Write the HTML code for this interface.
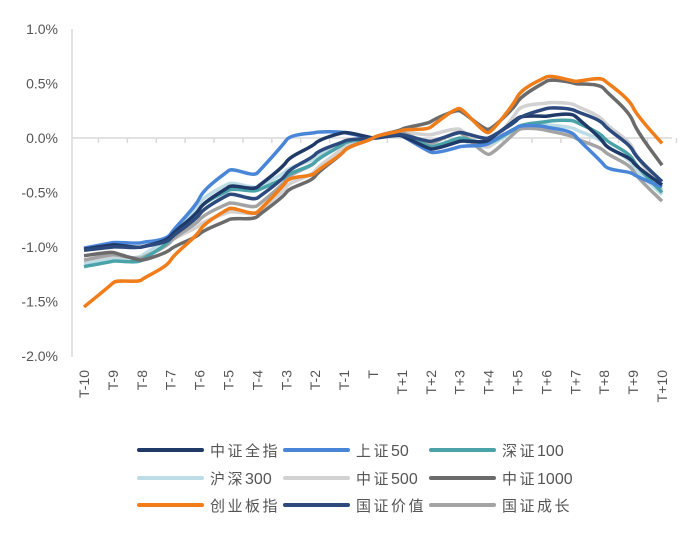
<!DOCTYPE html>
<html><head><meta charset="utf-8"><style>
body{margin:0;background:#fff;}
svg text{font-family:"Liberation Sans","Noto Sans CJK SC",sans-serif;fill:#555;}
</style></head><body>
<svg id="c" width="687" height="528" xmlns="http://www.w3.org/2000/svg"></svg>
<script>
const categories=["T-10","T-9","T-8","T-7","T-6","T-5","T-4","T-3","T-2","T-1","T","T+1","T+2","T+3","T+4","T+5","T+6","T+7","T+8","T+9","T+10"];
const yTicks=[1.0,0.5,0.0,-0.5,-1.0,-1.5,-2.0];
const yTickLabels=["1.0%","0.5%","0.0%","-0.5%","-1.0%","-1.5%","-2.0%"];
const seriesNames=["中证全指","上证50","深证100","沪深300","中证500","中证1000","创业板指","国证价值","国证成长"];
const seriesColors=["#1f3a68","#4a86d8","#4aa3a8","#bcdce6","#d2d2d2","#6b6b6b","#f07d1a","#2c4a7e","#a3a3a3"];
const s_zzqz=[-1.02,-0.98,-1.00,-0.90,-0.65,-0.45,-0.45,-0.22,-0.05,0.05,0,0.02,-0.10,-0.03,-0.02,0.18,0.20,0.20,-0.05,-0.22,-0.43];
const s_sz50=[-1.01,-0.96,-0.96,-0.88,-0.55,-0.30,-0.32,-0.02,0.05,0.05,0,0.02,-0.13,-0.08,-0.05,0.10,0.10,0.02,-0.25,-0.33,-0.45];
const s_sz100=[-1.18,-1.13,-1.12,-0.92,-0.65,-0.48,-0.48,-0.35,-0.22,-0.05,0,0.03,-0.08,0.0,-0.05,0.10,0.15,0.15,0.0,-0.20,-0.50];
const s_hs300=[-1.15,-1.10,-1.08,-0.88,-0.60,-0.42,-0.45,-0.30,-0.18,-0.04,0,0.03,-0.07,-0.02,-0.08,0.10,0.12,0.08,-0.05,-0.25,-0.52];
const s_zz500=[-1.12,-1.08,-1.10,-0.95,-0.80,-0.68,-0.68,-0.45,-0.30,-0.08,0,0.05,0.03,0.08,-0.08,0.25,0.32,0.30,0.15,-0.10,-0.48];
const s_zz1000=[-1.08,-1.05,-1.12,-1.02,-0.88,-0.75,-0.72,-0.50,-0.35,-0.12,0,0.08,0.15,0.25,0.08,0.33,0.52,0.50,0.45,0.15,-0.25];
const s_cyb=[-1.55,-1.33,-1.30,-1.12,-0.85,-0.65,-0.68,-0.40,-0.32,-0.12,0,0.07,0.10,0.27,0.05,0.38,0.56,0.52,0.53,0.28,-0.05];
const s_gzjz=[-1.03,-1.00,-1.00,-0.92,-0.70,-0.52,-0.55,-0.33,-0.15,-0.03,0,0.03,-0.03,0.05,0.0,0.17,0.27,0.25,0.12,-0.12,-0.40];
const s_gzcz=[-1.12,-1.07,-1.10,-0.95,-0.75,-0.60,-0.62,-0.38,-0.22,-0.05,0,0.05,-0.05,0.05,-0.15,0.07,0.07,0.0,-0.12,-0.30,-0.58];
const allSeries=[s_zzqz,s_sz50,s_sz100,s_hs300,s_zz500,s_zz1000,s_cyb,s_gzjz,s_gzcz];
const drawOrder=[3,4,8,2,1,0,7,5,6];

const svg=document.getElementById('c');const NS="http://www.w3.org/2000/svg";
function mk(t,a,p){const e=document.createElementNS(NS,t);for(const k in a)e.setAttribute(k,a[k]);(p||svg).appendChild(e);return e;}
const x0=84,dx=28.9;
function xs(i){return x0+i*dx;}
function ys(v){return 138-v*109;}
let ax=mk('line',{x1:72,y1:29,x2:72,y2:357,stroke:'#d9d9d9','stroke-width':1.5});


yTicks.forEach((v,i)=>{const t=mk('text',{x:58,y:ys(v)+5,'text-anchor':'end','font-size':14});t.textContent=yTickLabels[i];

});
let zl=mk('line',{x1:72,y1:ys(0),x2:672,y2:ys(0),stroke:'#d9d9d9','stroke-width':1.5});


categories.forEach((c,i)=>{
 const tk=mk('line',{x1:xs(i)+dx/2,y1:ys(0),x2:xs(i)+dx/2,y2:ys(0)+5,stroke:'#d9d9d9','stroke-width':1.5});
 
 
 const t=mk('text',{transform:`translate(${xs(i)+5},370) rotate(-90)`,'text-anchor':'end','font-size':14});t.textContent=c;
 
 
});
function path(d){let p=`M${xs(0)},${ys(d[0])}`;for(let i=0;i<d.length-1;i++){const a=d[Math.max(i-1,0)],b=d[i],c=d[i+1],e=d[Math.min(i+2,d.length-1)];
 const x1=xs(i)+dx/6,y1=ys(b)+(ys(c)-ys(a))/6,x2=xs(i+1)-dx/6,y2=ys(c)-(ys(e)-ys(b))/6;p+=`C${x1},${y1} ${x2},${y2} ${xs(i+1)},${ys(c)}`;}return p;}
drawOrder.forEach(k=>{const l=mk('path',{d:path(allSeries[k]),fill:'none',stroke:seriesColors[k],'stroke-width':3.5,'stroke-linejoin':'round'});
 
 });
const lx=[139,285,431],ly=[450,478,505];
seriesNames.forEach((n,i)=>{const c=i%3,r=Math.floor(i/3);
 const g=mk('g',{});
 
 
 mk('line',{x1:lx[c],y1:ly[r],x2:lx[c]+63,y2:ly[r],stroke:seriesColors[i],'stroke-width':4,'stroke-linecap':'round'},g);
 const t=mk('text',{x:lx[c]+71,y:ly[r]+6,'font-size':15},g);
 const m=n.match(/^(\D*)(\d*)$/);
 const a=mk('tspan',{'letter-spacing':2.5},t);a.textContent=m[1];
 if(m[2]){const b=mk('tspan',{'letter-spacing':0,'font-size':16},t);b.textContent=m[2];}
});
</script>
</body></html>
